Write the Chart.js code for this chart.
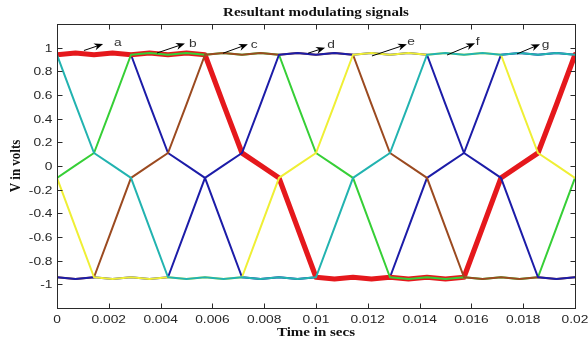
<!DOCTYPE html>
<html><head><meta charset="utf-8">
<script src="https://cdn.jsdelivr.net/npm/chart.js@4"></script>
<style>html,body{margin:0;padding:0;background:#fff;}canvas{display:block;}</style>
</head><body>
<canvas id="c" width="588" height="342"></canvas>
<script>
// ---- data (time in s, voltage in V) ----
const times = [0,0.000714,0.001429,0.002143,0.002857,0.003571,0.004286,0.005,0.005714,0.006429,0.007143,0.007857,0.008571,0.009286,0.01,0.010714,0.011429,0.012143,0.012857,0.013571,0.014286,0.015,0.015714,0.016429,0.017143,0.017857,0.018571,0.019286,0.02];
const cyanSig   = [0.94,0.52,0.11,0.005,-0.1,-0.52,-0.94,-0.955,-0.94,-0.955,-0.94,-0.955,-0.94,-0.955,-0.94,-0.52,-0.1,0.005,0.11,0.52,0.94,0.955,0.94,0.955,0.94,0.955,0.94,0.955,0.94];
const blue1Sig  = [0.94,0.955,0.94,0.955,0.94,0.52,0.11,0.005,-0.1,-0.52,-0.94,-0.955,-0.94,-0.955,-0.94,-0.955,-0.94,-0.955,-0.94,-0.52,-0.1,0.005,0.11,0.52,0.94,0.955,0.94,0.955,0.94];
const redSig    = [0.94,0.955,0.94,0.955,0.94,0.955,0.94,0.955,0.94,0.52,0.11,0.005,-0.1,-0.52,-0.94,-0.955,-0.94,-0.955,-0.94,-0.955,-0.94,-0.955,-0.94,-0.52,-0.1,0.005,0.11,0.52,0.94];
const greenSig  = [-0.1,0.005,0.11,0.52,0.94,0.955,0.94,0.955,0.94,0.955,0.94,0.955,0.94,0.52,0.11,0.005,-0.1,-0.52,-0.94,-0.955,-0.94,-0.955,-0.94,-0.955,-0.94,-0.955,-0.94,-0.52,-0.1];
const brownSig  = [-0.94,-0.955,-0.94,-0.52,-0.1,0.005,0.11,0.52,0.94,0.955,0.94,0.955,0.94,0.955,0.94,0.955,0.94,0.52,0.11,0.005,-0.1,-0.52,-0.94,-0.955,-0.94,-0.955,-0.94,-0.955,-0.94];
const blue2Sig  = [-0.94,-0.955,-0.94,-0.955,-0.94,-0.955,-0.94,-0.52,-0.1,0.005,0.11,0.52,0.94,0.955,0.94,0.955,0.94,0.955,0.94,0.955,0.94,0.52,0.11,0.005,-0.1,-0.52,-0.94,-0.955,-0.94];
const yellowSig = [-0.1,-0.52,-0.94,-0.955,-0.94,-0.955,-0.94,-0.955,-0.94,-0.955,-0.94,-0.52,-0.1,0.005,0.11,0.52,0.94,0.955,0.94,0.955,0.94,0.955,0.94,0.955,0.94,0.52,0.11,0.005,-0.1];

// annotations (data coordinates)
const markLetters = ['a','b','c','d','e','f','g'];
const arrowTails  = [[0.00104,0.976],[0.00386,0.955],[0.00641,0.953],[0.00969,0.953],[0.01216,0.930],[0.01506,0.938],[0.01776,0.947]];
const arrowHeads  = [[0.00178,1.031],[0.00494,1.035],[0.00737,1.029],[0.01035,1.000],[0.01351,1.029],[0.01614,1.037],[0.01865,1.029]];
const letterPos   = [[0.002201,1.014],[0.005097,1.008],[0.007479,0.995],[0.010436,0.995],[0.013525,1.020],[0.016166,1.023],[0.018714,1.000]];

const titleText = 'Resultant modulating signals';
const xTitle = 'Time in secs';
const yTitle = 'V in volts';

// ---- chart ----
const pts = arr => times.map((t, i) => ({x: t, y: arr[i]}));
const thin = 2;
const series = [
  {data: blue1Sig,  color: '#1c1ca8', w: thin, order: 7},
  {data: redSig,    color: '#e5181c', w: 5.2,  order: 6},
  {data: greenSig,  color: '#36cf36', w: thin, order: 5},
  {data: brownSig,  color: '#9b4a20', w: thin, order: 4},
  {data: blue2Sig,  color: '#1c1ca8', w: thin, order: 3},
  {data: yellowSig, color: '#efef35', w: thin, order: 2},
  {data: cyanSig,   color: '#22b3b0', w: thin, order: 1}
];

const SX = 1.25;
const SANS = 'Arial, "Liberation Sans", Helvetica, sans-serif';
const SERIF = '"Times New Roman", "Liberation Serif", Times, serif';
function sText(ctx, s, x, y, font, align, rot, sx, sy) {
  ctx.save();
  ctx.translate(x, y);
  if (rot) ctx.rotate(rot);
  ctx.scale(sx, sy);
  ctx.font = font;
  ctx.textAlign = align;
  ctx.textBaseline = 'alphabetic';
  ctx.fillText(s, 0, 0);
  ctx.restore();
}
const fmtX = v => String(Math.round(v * 1000) / 1000);
const fmtY = v => { const r = Math.round(v * 10) / 10; return String(r === 0 ? 0 : r); };

const decor = {
  id: 'decor',
  afterDatasetsDraw(chart) {
    const {ctx, chartArea: a, scales: {x, y}} = chart;
    ctx.save();
    const L = Math.round(a.left) + 0.5, R = Math.round(a.right) + 0.5;
    const T = Math.round(a.top) + 0.5, B = Math.round(a.bottom) + 0.5;
    ctx.strokeStyle = '#2a2a2a';
    ctx.lineWidth = 1;
    ctx.strokeRect(L, T, R - L, B - T);
    ctx.beginPath();
    x.ticks.forEach(t => {
      const px = Math.round(x.getPixelForValue(t.value)) + 0.5;
      ctx.moveTo(px, B); ctx.lineTo(px, B - 5);
      ctx.moveTo(px, T); ctx.lineTo(px, T + 5);
    });
    y.ticks.forEach(t => {
      const py = Math.round(y.getPixelForValue(t.value)) + 0.5;
      ctx.moveTo(L, py); ctx.lineTo(L + 5, py);
      ctx.moveTo(R, py); ctx.lineTo(R - 5, py);
    });
    ctx.stroke();

    // tick labels
    ctx.fillStyle = '#262626';
    const tf = '11px ' + SANS;
    x.ticks.forEach(t => {
      sText(ctx, fmtX(t.value), x.getPixelForValue(t.value), a.bottom + 14.5, tf, 'center', 0, SX, 1);
    });
    y.ticks.forEach(t => {
      sText(ctx, fmtY(t.value), a.left - 4.5, y.getPixelForValue(t.value) + 4, tf, 'right', 0, SX, 1);
    });

    // titles
    ctx.fillStyle = '#111';
    const cx = (a.left + a.right) / 2;
    sText(ctx, titleText, cx, 16, 'bold 12px ' + SERIF, 'center', 0, SX, 1);
    sText(ctx, xTitle, cx, a.bottom + 28, 'bold 12px ' + SERIF, 'center', 0, SX, 1);
    sText(ctx, yTitle, 19.5, (a.top + a.bottom) / 2, 'bold 13px ' + SERIF, 'center', -Math.PI / 2, 1, 1.15);

    // arrows + letters
    ctx.strokeStyle = '#000';
    ctx.fillStyle = '#000';
    ctx.lineWidth = 1;
    markLetters.forEach((ch, i) => {
      const x0 = x.getPixelForValue(arrowTails[i][0]), y0 = y.getPixelForValue(arrowTails[i][1]);
      const x1 = x.getPixelForValue(arrowHeads[i][0]), y1 = y.getPixelForValue(arrowHeads[i][1]);
      const dx = x1 - x0, dy = y1 - y0, len = Math.hypot(dx, dy);
      const ux = dx / len, uy = dy / len, nx = -uy, ny = ux;
      const HL = 9, HW = 3.6;
      ctx.beginPath();
      ctx.moveTo(x0, y0);
      ctx.lineTo(x1 - ux * HL * 0.6, y1 - uy * HL * 0.6);
      ctx.stroke();
      ctx.beginPath();
      ctx.moveTo(x1, y1);
      ctx.lineTo(x1 - ux * HL + nx * HW, y1 - uy * HL + ny * HW);
      ctx.lineTo(x1 - ux * HL * 0.7, y1 - uy * HL * 0.7);
      ctx.lineTo(x1 - ux * HL - nx * HW, y1 - uy * HL - ny * HW);
      ctx.closePath();
      ctx.fill();
      ctx.fillStyle = '#333';
      sText(ctx, ch, x.getPixelForValue(letterPos[i][0]), y.getPixelForValue(letterPos[i][1]), '11px ' + SANS, 'left', 0, SX, 1);
      ctx.fillStyle = '#000';
    });
    ctx.restore();
  }
};

new Chart(document.getElementById('c'), {
  type: 'line',
  data: {
    datasets: series.map(s => ({
      data: pts(s.data),
      borderColor: s.color,
      backgroundColor: s.color,
      borderWidth: s.w,
      pointRadius: 0,
      tension: 0,
      fill: false,
      order: s.order,
      borderJoinStyle: 'round',
      borderCapStyle: 'round'
    }))
  },
  options: {
    responsive: false,
    animation: false,
    devicePixelRatio: 1,
    layout: {padding: {left: 0, right: 13, top: 24, bottom: 0}},
    plugins: {legend: {display: false}, tooltip: {enabled: false}, title: {display: false}},
    scales: {
      x: {
        type: 'linear', min: 0, max: 0.02,
        ticks: {display: false, stepSize: 0.002},
        grid: {display: false, drawTicks: false},
        border: {display: false},
        afterFit(s) { s.height = 34; s.paddingLeft = 0; s.paddingRight = 0; }
      },
      y: {
        type: 'linear', min: -1.2, max: 1.2,
        ticks: {display: false, stepSize: 0.2},
        grid: {display: false, drawTicks: false},
        border: {display: false},
        afterBuildTicks(s) { s.ticks = s.ticks.filter(t => Math.abs(t.value) <= 1.0001); },
        afterFit(s) { s.width = 57; s.paddingTop = 0; s.paddingBottom = 0; }
      }
    }
  },
  plugins: [decor]
});
</script>
</body></html>
